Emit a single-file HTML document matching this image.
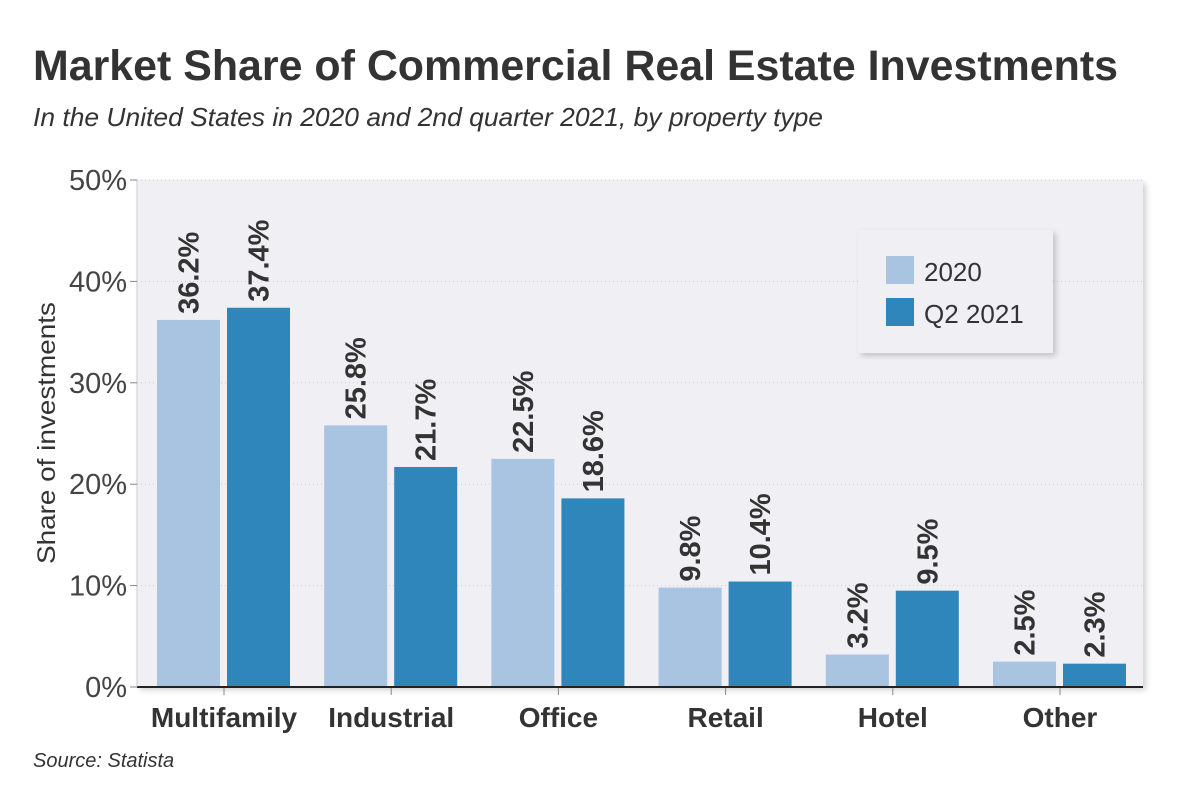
<!DOCTYPE html>
<html><head><meta charset="utf-8"><style>
body{margin:0;background:#fff;width:1200px;height:800px;overflow:hidden;font-family:"Liberation Sans",sans-serif}
</style></head><body>
<svg width="1200" height="800" style="font-family:'Liberation Sans',sans-serif">
<defs><filter id="sh" x="-5%" y="-5%" width="110%" height="110%"><feDropShadow dx="3" dy="3" stdDeviation="3" flood-color="#000" flood-opacity="0.18"/></filter></defs>
<text x="33" y="80" font-size="43" font-weight="bold" fill="#333" textLength="1085" lengthAdjust="spacingAndGlyphs">Market Share of Commercial Real Estate Investments</text>
<text x="33" y="126" font-size="26" font-style="italic" fill="#333" textLength="790" lengthAdjust="spacingAndGlyphs">In the United States in 2020 and 2nd quarter 2021, by property type</text>
<rect x="137" y="180" width="1006" height="507" fill="#efeff4" filter="url(#sh)"/>
<g id="grid"></g>
<g id="bars"></g>
<g id="labels"></g>
<line x1="137" y1="687" x2="1143" y2="687" stroke="#222" stroke-width="2"/>
<line x1="137" y1="180" x2="137" y2="687" stroke="#ccc" stroke-width="1"/>
<g id="yticks"></g>
<g id="xticks"></g>
<text transform="translate(55,433) rotate(-90)" text-anchor="middle" font-size="25" fill="#333" textLength="262" lengthAdjust="spacingAndGlyphs">Share of investments</text>
<g>
<rect x="858" y="230" width="195" height="123" fill="#efeff4" filter="url(#sh)"/>
<rect x="886" y="256" width="28" height="28" fill="#a9c4e0"/>
<text x="924" y="281" font-size="26" fill="#333">2020</text>
<rect x="886" y="298" width="28" height="28" fill="#2e86ba"/>
<text x="924" y="323" font-size="26" fill="#333">Q2 2021</text>
</g>
<text x="33" y="767" font-size="20" font-style="italic" fill="#333">Source: Statista</text>
</svg>
<script>
const categories=["Multifamily","Industrial","Office","Retail","Hotel","Other"];
const values2020=[36.2,25.8,22.5,9.8,3.2,2.5];
const valuesQ2=[37.4,21.7,18.6,10.4,9.5,2.3];
const yTicks=[0,10,20,30,40,50];
const NS="http://www.w3.org/2000/svg";
const x0=140.4,band=167.2,yBase=687,yTop=180,yMax=50;
const y=v=>yBase-(v/yMax)*(yBase-yTop);
const cx=i=>x0+band*(i+0.5);
function mk(t,a,p){const e=document.createElementNS(NS,t);for(const k in a)e.setAttribute(k,a[k]);document.getElementById(p).appendChild(e);return e;}
yTicks.forEach(t=>{
 if(t>0){const g=mk('line',{x1:137,x2:1143,y1:y(t),y2:y(t),stroke:'#ccc','stroke-dasharray':'1 3'},'grid');
 
 }
 const tk=mk('line',{x1:130,x2:137,y1:y(t),y2:y(t),stroke:'#888'},'yticks');
 
 
 const l=mk('text',{x:127,y:y(t)+10,'text-anchor':'end','font-size':29,fill:'#444'},'yticks');
 
 
 l.textContent=t+'%';
});
categories.forEach((c,i)=>{
 [[values2020[i],'#a9c4e0',-67,'2020'],[valuesQ2[i],'#2e86ba',3,'q2-2021']].forEach(([v,col,off,s])=>{
  const b=mk('rect',{x:cx(i)+off,y:y(v),width:63,height:yBase-y(v),fill:col},'bars');
  
  
  const tx=cx(i)+off+31.5+10, ty=y(v)-6;
  const t=mk('text',{transform:`translate(${tx},${ty}) rotate(-90)`,'font-size':29,'font-weight':'bold',fill:'#333'},'labels');
  
  
  t.textContent=v.toFixed(1)+'%';
 });
 const tk=mk('line',{x1:cx(i),x2:cx(i),y1:688,y2:695,stroke:'#888'},'xticks');
 
 
 const l=mk('text',{x:cx(i),y:727,'text-anchor':'middle','font-size':28,'font-weight':'bold',fill:'#333'},'xticks');
 
 
 l.textContent=c;
});
</script>
</body></html>
